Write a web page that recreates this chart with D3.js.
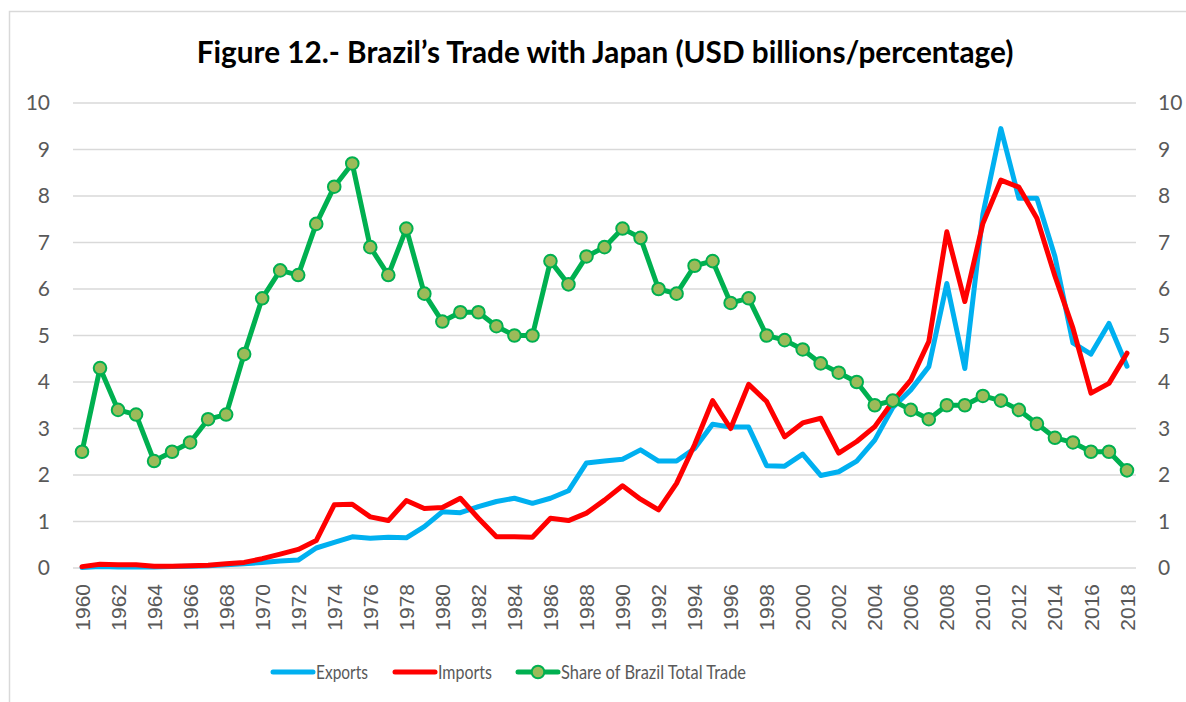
<!DOCTYPE html>
<html><head><meta charset="utf-8">
<script src="https://cdn.jsdelivr.net/npm/d3@7"></script>
<style>
html,body{margin:0;padding:0;background:#fff;}
svg{display:block;}
</style></head>
<body>
<svg id="c" width="1186" height="702"></svg>
<script>
const years = d3.range(1960, 2019);
const exportsData = [0.01,0.03,0.02,0.02,0.02,0.03,0.04,0.05,0.07,0.09,0.12,0.15,0.17,0.43,0.55,0.67,0.64,0.66,0.65,0.89,1.21,1.19,1.32,1.43,1.50,1.39,1.50,1.66,2.26,2.30,2.34,2.54,2.30,2.30,2.57,3.09,3.03,3.03,2.20,2.19,2.45,1.99,2.07,2.30,2.75,3.45,3.83,4.33,6.12,4.29,7.60,9.45,7.95,7.95,6.70,4.84,4.60,5.26,4.34];
const importsData = [0.03,0.08,0.07,0.07,0.04,0.04,0.05,0.06,0.09,0.12,0.20,0.30,0.40,0.59,1.36,1.37,1.10,1.02,1.45,1.28,1.30,1.50,1.07,0.67,0.67,0.66,1.07,1.02,1.18,1.46,1.77,1.48,1.25,1.82,2.65,3.60,3.00,3.95,3.58,2.82,3.12,3.22,2.47,2.72,3.04,3.58,4.04,4.87,7.23,5.73,7.41,8.34,8.19,7.52,6.28,5.16,3.76,3.97,4.62];
const shareData = [2.5,4.3,3.4,3.3,2.3,2.5,2.7,3.2,3.3,4.6,5.8,6.4,6.3,7.4,8.2,8.7,6.9,6.3,7.3,5.9,5.3,5.5,5.5,5.2,5.0,5.0,6.6,6.1,6.7,6.9,7.3,7.1,6.0,5.9,6.5,6.6,5.7,5.8,5.0,4.9,4.7,4.4,4.2,4.0,3.5,3.6,3.4,3.2,3.5,3.5,3.7,3.6,3.4,3.1,2.8,2.7,2.5,2.5,2.1];
const yTicks = [0,1,2,3,4,5,6,7,8,9,10];
const seriesNames = ["Exports","Imports","Share of Brazil Total Trade"];
const titleText = "Figure 12.- Brazil\u2019s Trade with Japan (USD billions/percentage)";

const svg = d3.select("#c");
const L = 73, R = 1136, T = 103, B = 568;
const x = d3.scaleBand().domain(years).range([L, R]).padding(0);
const cx = d => x(d) + x.bandwidth()/2;
const yL = d3.scaleLinear().domain([0,10]).range([B, T]);
const yR = d3.scaleLinear().domain([0,10]).range([B, T]);

// frame
svg.append("path").attr("d", `M9.5,702 V11.5 H1186`).attr("fill","none").attr("stroke","#d9d9d9").attr("stroke-width",1.5);

// title
const title = svg.append("text").attr("x", 605).attr("y", 63).attr("text-anchor","middle")
  .attr("font-family","Lato").attr("font-weight","bold").attr("font-size",28).attr("fill","#000").text(titleText);
const tw = title.node().getComputedTextLength();
title.attr("font-size", 28*817/tw);

// gridlines
svg.append("g").selectAll("line").data(yTicks).join("line")
  .attr("x1", L).attr("x2", R).attr("y1", d=>yL(d)).attr("y2", d=>yL(d))
  .attr("stroke","#d9d9d9").attr("stroke-width",1.5);

// left axis
const ax = d3.axisLeft(yL).tickValues(yTicks).tickSize(0).tickPadding(0);
const gL = svg.append("g").attr("transform",`translate(50,0)`).call(ax);
gL.select(".domain").remove();
gL.selectAll("text").attr("font-family","Lato").attr("font-size",21).attr("fill","#595959");
const axR = d3.axisRight(yR).tickValues(yTicks).tickSize(0).tickPadding(0);
const gR = svg.append("g").attr("transform",`translate(1158,0)`).call(axR);
gR.select(".domain").remove();
gR.selectAll("text").attr("font-family","Lato").attr("font-size",21).attr("fill","#595959");

// x axis labels
const xa = d3.axisBottom(x).tickValues(years.filter(y => y % 2 === 0)).tickSize(0).tickPadding(0);
const gX = svg.append("g").attr("transform",`translate(0,${B})`).call(xa);
gX.select(".domain").remove();
gX.selectAll("text").attr("font-family","Liberation Sans").attr("font-size",21).attr("fill","#595959")
  .attr("text-anchor","end").attr("transform","rotate(-90)").attr("x",-16).attr("y",0).attr("dy","0.36em");

// lines
const line = (ys, sc) => d3.line().x((d,i)=>cx(years[i])).y(d=>sc(d))(ys);
svg.append("path").attr("d", line(exportsData, yL)).attr("fill","none").attr("stroke","#00B0F0").attr("stroke-width",5).attr("stroke-linejoin","round").attr("stroke-linecap","round");
svg.append("path").attr("d", line(importsData, yL)).attr("fill","none").attr("stroke","#FF0000").attr("stroke-width",5).attr("stroke-linejoin","round").attr("stroke-linecap","round");
svg.append("path").attr("d", line(shareData, yR)).attr("fill","none").attr("stroke","#00B050").attr("stroke-width",5).attr("stroke-linejoin","round").attr("stroke-linecap","round");
svg.append("g").selectAll("circle").data(shareData).join("circle")
  .attr("cx",(d,i)=>cx(years[i])).attr("cy",d=>yR(d)).attr("r",6.3)
  .attr("fill","#9BBB59").attr("stroke","#00B050").attr("stroke-width",2);

// legend
const lg = svg.append("g");
const legendItems = [
  {name: seriesNames[0], color:"#00B0F0", x0: 273, w: 52, marker:false},
  {name: seriesNames[1], color:"#FF0000", x0: 395, w: 54, marker:false},
  {name: seriesNames[2], color:"#00B050", x0: 518, w: 185, marker:true}
];
const ly = 672;
legendItems.forEach(it => {
  lg.append("line").attr("x1", it.x0).attr("x2", it.x0+40).attr("y1", ly).attr("y2", ly)
    .attr("stroke", it.color).attr("stroke-width",5).attr("stroke-linecap","round");
  if (it.marker) lg.append("circle").attr("cx", it.x0+20).attr("cy", ly).attr("r",6.3).attr("fill","#9BBB59").attr("stroke","#00B050").attr("stroke-width",2);
  lg.append("text").attr("x", it.x0+43).attr("y", ly).attr("dy","0.36em").attr("font-family","Lato").attr("font-size",19)
    .attr("textLength", it.w).attr("lengthAdjust","spacingAndGlyphs").attr("fill","#595959").text(it.name);
});
</script>
</body></html>
